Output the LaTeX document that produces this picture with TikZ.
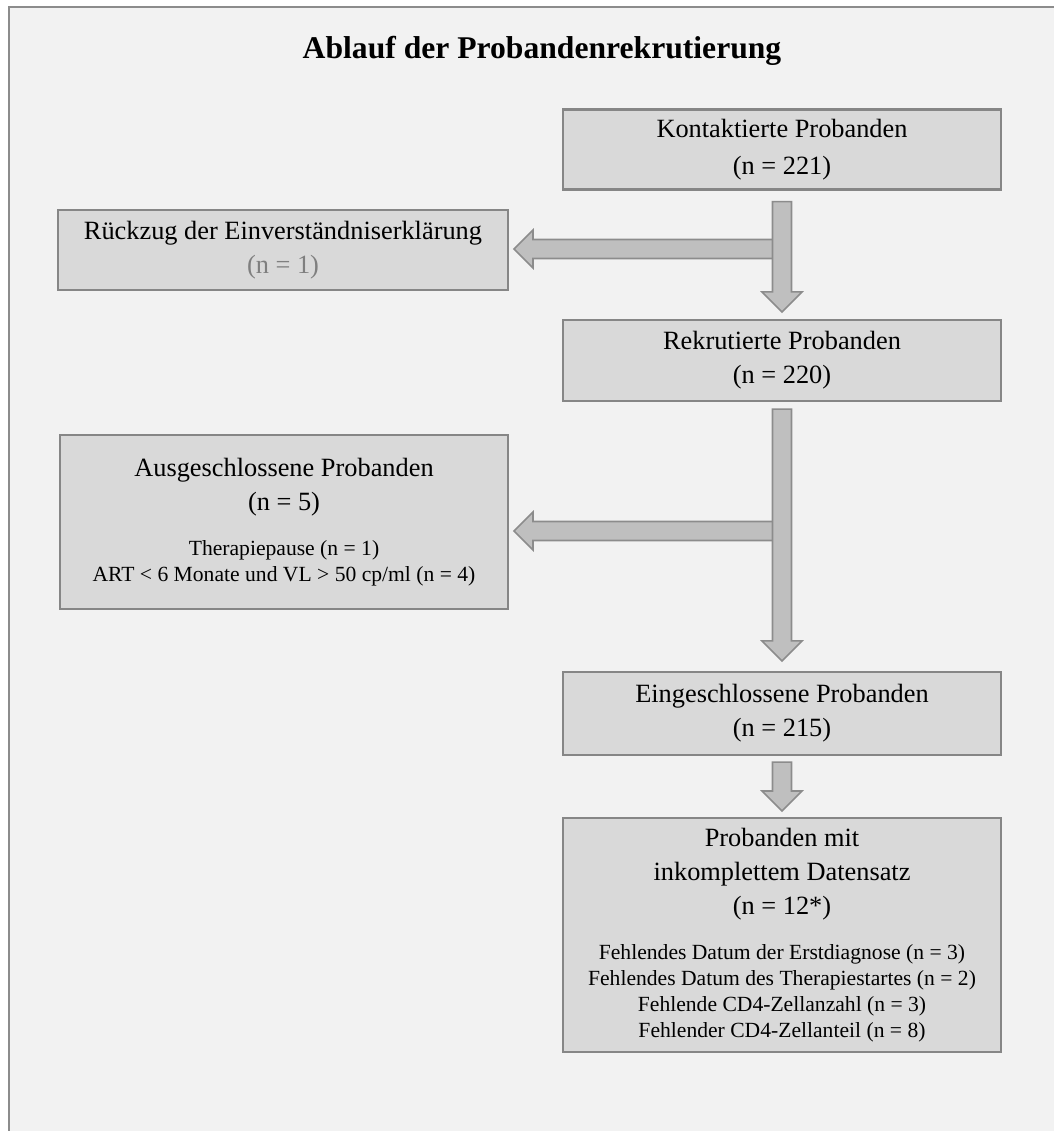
\documentclass[tikz,border=0pt]{standalone}
\usepackage{fontspec}
\setmainfont{Liberation Serif}
\usepackage{xcolor}
\usepackage{tikz}
\usetikzlibrary{calc}

\definecolor{hintergrund}{HTML}{F2F2F2}
\definecolor{rahmen}{HTML}{8C8C8C}
\definecolor{kastenfill}{HTML}{D9D9D9}
\definecolor{kastenrand}{HTML}{868686}
\definecolor{pfeilfill}{HTML}{BFBFBF}
\definecolor{pfeilrand}{HTML}{8C8C8C}
\definecolor{grautext}{HTML}{7F7F7F}

\newcommand{\kleintext}{\fontsize{12.3}{14.8}\selectfont}

\tikzset{
  kasten/.style={draw=kastenrand, fill=kastenfill, line width=1.2pt, inner sep=0pt,
    minimum width=8.76cm, minimum height=1.6cm, text width=8.4cm, align=flush center,
    font=\fontsize{15}{19.5}\selectfont},
  pfeil/.style={fill=pfeilfill, draw=pfeilrand, line width=0.9pt, line join=miter},
  titel/.style={font=\fontsize{18}{22}\selectfont\bfseries}
}

% block arrow pointing down, from #1 to the tip #2
\newcommand{\pfeilrunter}[2]{%
  \filldraw[pfeil] ($(#1)+(-9.5,0)$) -- ($(#2)+(-9.5,-20)$) -- ($(#2)+(-20,-20)$) -- (#2)
    -- ($(#2)+(20,-20)$) -- ($(#2)+(9.5,-20)$) -- ($(#1)+(9.5,0)$) -- cycle;}
% block arrow pointing left, from #1 to the tip #2
\newcommand{\pfeillinks}[2]{%
  \filldraw[pfeil] ($(#1)+(0,-9.5)$) -- ($(#2)+(19,-9.5)$) -- ($(#2)+(19,-19)$) -- (#2)
    -- ($(#2)+(19,19)$) -- ($(#2)+(19,9.5)$) -- ($(#1)+(0,9.5)$) -- cycle;}

\begin{document}
\begin{tikzpicture}[x=0.02cm, y=-0.02cm]
  \useasboundingbox (0,0) rectangle (1054,1131);
  \fill[white] (0,0) rectangle (1054,1131);
  \fill[hintergrund] (9,7) rectangle (1054,1131);
  \draw[rahmen, line width=1.2pt] (9,1131) -- (9,7) -- (1054,7);

  \node[titel, anchor=base] (titel) at (542,59) {Ablauf der Probandenrekrutierung};

  % boxes
  \node[kasten, font=\fontsize{15}{21}\selectfont] (kontakt) at (782,149.5) {Kontaktierte Probanden\\(n = 221)};
  \node[kasten, minimum width=9cm, text width=8.6cm] (rueckzug) at (283,250)
    {Rückzug der Einverständniserklärung\\\textcolor{grautext}{(n = 1)}};
  \node[kasten, minimum height=1.62cm] (rekrut) at (782,360.5) {Rekrutierte Probanden\\(n = 220)};
  \node[kasten, minimum width=8.96cm, minimum height=3.48cm, text width=8.6cm] (ausschluss) at (284,522)
    {Ausgeschlossene Probanden\\(n = 5)\par\vspace{10.5pt}
     \kleintext Therapiepause (n = 1)\\ART < 6 Monate und VL > 50 cp/ml (n = 4)\par};
  \node[kasten, minimum height=1.66cm] (einschluss) at (782,713.5) {Eingeschlossene Probanden\\(n = 215)};
  \node[kasten, minimum height=4.68cm] (unvollst) at (782,935)
    {Probanden mit\\inkomplettem Datensatz\\(n = 12*)\par\vspace{10.5pt}
     \kleintext Fehlendes Datum der Erstdiagnose (n = 3)\\Fehlendes Datum des Therapiestartes (n = 2)\\
     Fehlende CD4-Zellanzahl (n = 3)\\Fehlender CD4-Zellanteil (n = 8)\par};

  % arrows
  \coordinate (p1a) at ($(kontakt.south)+(0,11)$);
  \coordinate (p1b) at ($(rekrut.north)+(0,-7)$);
  \coordinate (p1c) at ($(rueckzug.east)+(5,-1)$);
  \coordinate (p1d) at (p1c -| p1a);
  \pfeillinks{p1d}{p1c}
  \pfeilrunter{p1a}{p1b}

  \coordinate (p2a) at ($(rekrut.south)+(0,7)$);
  \coordinate (p2b) at ($(einschluss.north)+(0,-10)$);
  \coordinate (p2c) at ($(ausschluss.east)+(5,9)$);
  \coordinate (p2d) at (p2c -| p2a);
  \pfeillinks{p2d}{p2c}
  \pfeilrunter{p2a}{p2b}

  \coordinate (p3a) at ($(einschluss.south)+(0,6)$);
  \coordinate (p3b) at ($(unvollst.north)+(0,-6)$);
  \pfeilrunter{p3a}{p3b}
\end{tikzpicture}
\end{document}
